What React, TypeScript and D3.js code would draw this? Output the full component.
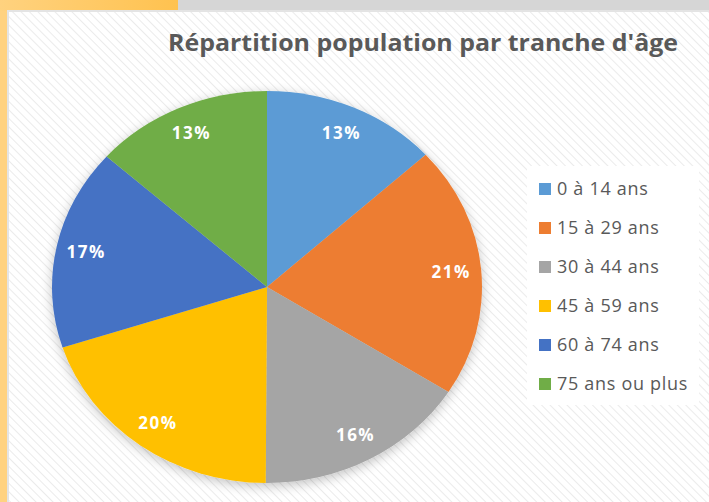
import React from "react";
import * as d3 from "d3";

const title = "Répartition population par tranche d'âge";
const categories = ["0 à 14 ans", "15 à 29 ans", "30 à 44 ans", "45 à 59 ans", "60 à 74 ans", "75 ans ou plus"];
const shares = [13.2, 20.8, 16.1, 19.9, 16.6, 13.4];
const colors = ["#5B9BD5", "#ED7D31", "#A5A5A5", "#FFC000", "#4472C4", "#70AD47"];

const W = 709;
const H = 502;

export default function App() {
  const svgRef = React.useRef<SVGSVGElement>(null);

  React.useEffect(() => {
    const svg = d3.select(svgRef.current);
    svg.selectAll("*").remove();

    const defs = svg.append("defs");
    const pat = defs.append("pattern")
      .attr("id", "hatch")
      .attr("width", 6).attr("height", 6)
      .attr("patternUnits", "userSpaceOnUse")
      .attr("patternTransform", "rotate(-45)");
    pat.append("rect").attr("width", 6).attr("height", 6).attr("fill", "#ffffff");
    pat.append("line").attr("x1", 0).attr("y1", 0).attr("x2", 0).attr("y2", 6)
      .attr("stroke", "#ebebeb").attr("stroke-width", 2);

    const grad = defs.append("linearGradient").attr("id", "topbar");
    grad.append("stop").attr("offset", "0%").attr("stop-color", "#FFD27F");
    grad.append("stop").attr("offset", "100%").attr("stop-color", "#FFC24F");

    const shadow = defs.append("filter").attr("id", "shadow")
      .attr("x", "-20%").attr("y", "-20%").attr("width", "140%").attr("height", "140%");
    shadow.append("feGaussianBlur").attr("in", "SourceAlpha").attr("stdDeviation", 6);
    shadow.append("feOffset").attr("dx", 0).attr("dy", 3).attr("result", "b");
    shadow.append("feComponentTransfer").append("feFuncA").attr("type", "linear").attr("slope", 0.25);
    const merge = shadow.append("feMerge");
    merge.append("feMergeNode");
    merge.append("feMergeNode").attr("in", "SourceGraphic");

    // window frame
    svg.append("rect").attr("width", W).attr("height", H).attr("fill", "#FFD280");
    svg.append("rect").attr("x", 0).attr("y", 0).attr("width", 178).attr("height", 11).attr("fill", "url(#topbar)");
    svg.append("rect").attr("x", 178).attr("y", 0).attr("width", W - 178).attr("height", 11).attr("fill", "#D6D6D6");
    svg.append("rect").attr("x", 7).attr("y", 10).attr("width", W - 7).attr("height", H - 10).attr("fill", "#E4E4E4");
    svg.append("rect").attr("x", 9).attr("y", 12).attr("width", W - 9).attr("height", H - 12).attr("fill", "url(#hatch)");

    // title
    svg.append("text")
      .attr("x", 168).attr("y", 51)
      .attr("textLength", 510).attr("lengthAdjust", "spacingAndGlyphs")
      .attr("font-family", "Open Sans")
      .attr("font-weight", "bold")
      .attr("font-size", 24)
      .attr("fill", "#595959")
      .text(title);

    // pie
    const cx = 267, cy = 287, rx = 215, ry = 196;
    const pie = d3.pie<number>().sort(null).value(d => d);
    const arcs = pie(shares);
    const arc = d3.arc<d3.PieArcDatum<number>>().innerRadius(0).outerRadius(1);
    const total = d3.sum(shares);

    const g = svg.append("g")
      .attr("transform", `translate(${cx},${cy})`)
      .attr("filter", "url(#shadow)");
    g.selectAll("path")
      .data(arcs)
      .join("path")
      .attr("transform", `scale(${rx},${ry})`)
      .attr("d", arc)
      .attr("fill", (d, i) => colors[i]);

    const labelArc = d3.arc<d3.PieArcDatum<number>>().innerRadius(0.86).outerRadius(0.86);
    svg.append("g")
      .attr("transform", `translate(${cx},${cy})`)
      .selectAll("text")
      .data(arcs)
      .join("text")
      .attr("x", d => labelArc.centroid(d)[0] * rx)
      .attr("y", d => labelArc.centroid(d)[1] * ry)
      .attr("dy", "0.35em")
      .attr("text-anchor", "middle")
      .attr("font-family", "Open Sans")
      .attr("font-weight", "bold")
      .attr("font-size", 17)
      .attr("letter-spacing", 1.5)
      .attr("fill", "#ffffff")
      .text(d => `${Math.round(d.data / total * 100)}%`);

    // legend
    const lg = svg.append("g");
    lg.append("rect").attr("x", 527).attr("y", 166).attr("width", 172).attr("height", 239).attr("fill", "#ffffff");
    const y = d3.scalePoint<string>().domain(categories).range([189, 384]);
    const rows = lg.selectAll("g.row").data(categories).join("g")
      .attr("class", "row")
      .attr("transform", d => `translate(539,${y(d)})`);
    rows.append("rect").attr("x", 0).attr("y", -6).attr("width", 12).attr("height", 12)
      .attr("fill", (d, i) => colors[i]);
    rows.append("text")
      .attr("x", 18).attr("y", 0).attr("dy", "0.35em")
      .attr("font-family", "Open Sans")
      .attr("font-size", 18)
      .attr("letter-spacing", 0.7)
      .attr("fill", "#595959")
      .text(d => d);
  }, []);

  return (
    <svg ref={svgRef} width={W} height={H}
      style={{ position: "absolute", left: 0, top: 0, display: "block" }} />
  );
}
